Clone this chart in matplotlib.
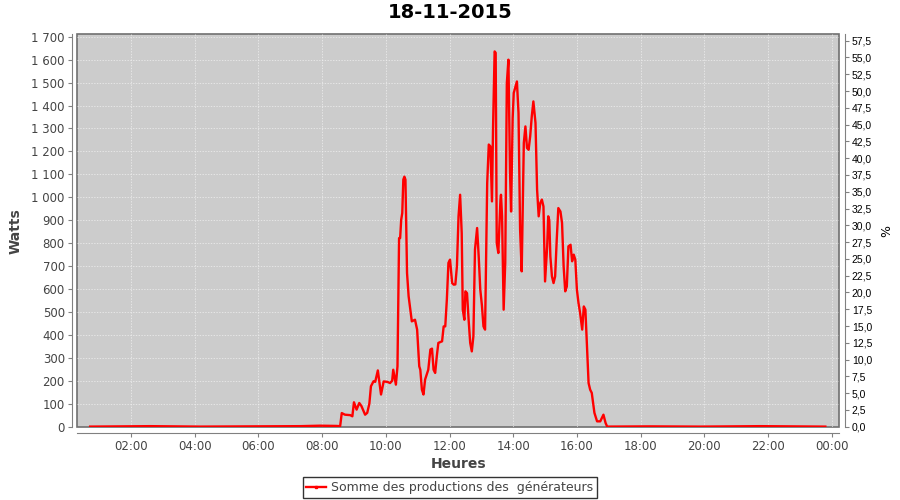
import matplotlib
matplotlib.use("Agg")
import matplotlib.pyplot as plt
import matplotlib.dates as mdates
from matplotlib.ticker import FuncFormatter, MultipleLocator
from matplotlib.lines import Line2D
import pandas as pd
import datetime as dt

day = "2015-11-18"
titre = "18-11-2015"
serie = "Somme des productions des  générateurs"

heures = ["00:43", "02:36", "04:10", "05:44", "07:19", "07:56", "08:26", "08:34",
          "08:37", "08:43", "08:53", "08:57", "09:00", "09:05", "09:10", "09:14",
          "09:21", "09:25", "09:29", "09:32", "09:37", "09:40", "09:45", "09:51",
          "09:56", "10:03", "10:08", "10:12", "10:14", "10:19", "10:22", "10:25",
          "10:27", "10:29", "10:31", "10:33", "10:35", "10:37", "10:40", "10:43",
          "10:49", "10:55", "10:59", "11:03", "11:05", "11:08", "11:11", "11:14",
          "11:20", "11:24", "11:27", "11:30", "11:33", "11:36", "11:39", "11:46",
          "11:49", "11:52", "11:55", "11:58", "12:01", "12:05", "12:08", "12:11",
          "12:14", "12:17", "12:20", "12:23", "12:25", "12:28", "12:30", "12:33",
          "12:36", "12:39", "12:42", "12:45", "12:48", "12:52", "12:55", "12:58",
          "13:01", "13:04", "13:07", "13:11", "13:14", "13:17", "13:20", "13:22",
          "13:25", "13:27", "13:29", "13:32", "13:36", "13:37", "13:39", "13:42",
          "13:45", "13:48", "13:51", "13:54", "13:56", "13:59", "14:01", "14:04",
          "14:07", "14:10", "14:13", "14:16", "14:20", "14:23", "14:26", "14:29",
          "14:32", "14:35", "14:38", "14:42", "14:45", "14:48", "14:51", "14:54",
          "14:57", "15:00", "15:04", "15:06", "15:08", "15:10", "15:13", "15:16",
          "15:19", "15:22", "15:25", "15:29", "15:32", "15:35", "15:38", "15:41",
          "15:44", "15:48", "15:51", "15:54", "15:57", "16:00", "16:03", "16:06",
          "16:10", "16:13", "16:16", "16:19", "16:22", "16:25", "16:28", "16:33",
          "16:38", "16:44", "16:47", "16:50", "16:54", "16:57", "18:18", "19:53",
          "21:46", "23:48"]

watts = [0, 2, 0, 1, 2, 4, 3, 2,
         59, 52, 50, 45, 106, 74, 103, 90,
         52, 60, 100, 176, 198, 195, 245, 140,
         197, 195, 190, 200, 248, 183, 263, 822,
         822, 902, 931, 1077, 1090, 1077, 670, 568,
         459, 466, 423, 263, 248, 161, 140, 205,
         248, 336, 340, 248, 234, 306, 365, 372,
         437, 437, 554, 714, 728, 626, 619, 620,
         699, 917, 1011, 844, 510, 466, 590, 582,
         466, 365, 328, 394, 772, 866, 742, 597,
         530, 437, 423, 1062, 1230, 1222, 982, 1300,
         1636, 1630, 801, 757, 990, 1011, 917, 510,
         715, 1498, 1600, 1106, 938, 1346, 1455, 1480,
         1505, 1367, 859, 677, 1237, 1309, 1215, 1207,
         1266, 1353, 1418, 1324, 1033, 917, 975, 990,
         960, 633, 786, 917, 900, 742, 655, 626,
         655, 815, 953, 938, 888, 699, 590, 611,
         786, 793, 721, 750, 728, 597, 539, 496,
         423, 524, 510, 350, 190, 161, 147, 60,
         23, 23, 38, 52, 16, 0, 1, 0,
         2, 0]

t = pd.to_datetime([day + " " + h for h in heures])

fig = plt.figure(figsize=(9, 5), dpi=100)
ax = fig.add_axes([0.0859, 0.1454, 0.8467, 0.7866])
ax.set_facecolor("#cccccc")
ax.patch.set_edgecolor("#707070")
ax.patch.set_linewidth(1.2)

ax.plot(t, watts, color="#ff0000", lw=1.7, zorder=3)

t0 = dt.datetime(2015, 11, 18) + dt.timedelta(hours=0.314)
t1 = dt.datetime(2015, 11, 18) + dt.timedelta(hours=24.24)
ax.set_xlim(t0, t1)
ax.set_ylim(-3, 1712)

ax.xaxis.set_major_locator(mdates.HourLocator(byhour=range(0, 24, 2)))
ax.xaxis.set_major_formatter(mdates.DateFormatter("%H:%M"))
ax.yaxis.set_major_locator(MultipleLocator(100))
ax.yaxis.set_major_formatter(FuncFormatter(lambda v, p: f"{int(round(v)):,}".replace(",", " ")))

ax.grid(True, color="#f0f0f0", ls=(0, (2, 2)), lw=0.5)
for s in ["top", "right"]:
    ax.spines[s].set_visible(False)
for s in ["left", "bottom"]:
    ax.spines[s].set_position(("outward", 4))
    ax.spines[s].set_color("#808080")
ax.tick_params(colors="#808080", labelcolor="#444444", labelsize=8.5, length=3, pad=2)

ax.set_xlabel("Heures", fontsize=10, fontweight="bold", color="#444444", labelpad=3)
ax.set_ylabel("Watts", fontsize=10, fontweight="bold", color="#444444", labelpad=6)

ax2 = ax.twinx()
ax2.set_ylim(-0.09, 58.5)
ax2.yaxis.set_major_locator(MultipleLocator(2.5))
ax2.yaxis.set_major_formatter(FuncFormatter(lambda v, p: f"{v:.1f}".replace(".", ",")))
for s in ["top", "left", "bottom"]:
    ax2.spines[s].set_visible(False)
ax2.spines["right"].set_position(("outward", 4))
ax2.spines["right"].set_color("#808080")
ax2.tick_params(colors="#808080", labelcolor="black", labelsize=7.5, length=3, pad=2)
for lb in ax2.get_yticklabels():
    lb.set_family("Liberation Sans")
ax2.set_ylabel("%", fontsize=9, color="black", labelpad=6)

fig.suptitle(titre, fontsize=14, fontweight="bold", y=0.974, va="center")

h = Line2D([], [], color="#ff0000", lw=1.7, marker="s", markersize=2)
leg = fig.legend([h], [serie], loc="center", bbox_to_anchor=(0.5, 0.025),
                 fancybox=False, edgecolor="black", fontsize=9,
                 handlelength=1.6, borderpad=0.3, handletextpad=0.4)
leg.get_frame().set_linewidth(1.0)
for tx in leg.get_texts():
    tx.set_color("#444444")

fig.savefig("out.png", dpi=100)
